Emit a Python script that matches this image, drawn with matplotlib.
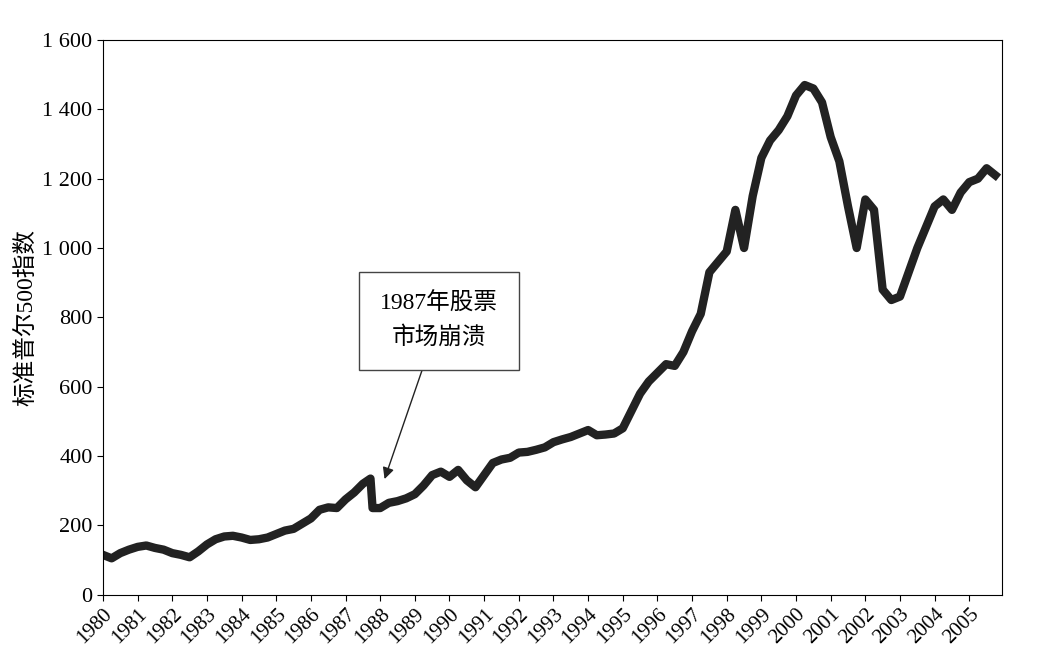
import matplotlib
matplotlib.use("Agg")
import matplotlib.pyplot as plt
import numpy as np

years = np.arange(1980, 2006, 0.25)
values = [115,105,120,130, 138,142,135,130, 120,115,108,125, 145,160,168,170,
          165,158,160,165, 175,185,190,205, 220,245,252,250, 275,295,320,330,
          250,265,270,278, 290,315,345,355, 340,360,330,310, 345,380,390,395,
          410,412,418,425, 440,448,455,465, 475,460,462,465, 480,530,580,615,
          640,665,660,700, 760,810,930,960, 990,1110,1000,1150, 1260,1310,1340,1380,
          1440,1470,1460,1420, 1320,1250,1120,1000, 1140,1110,880,850, 860,930,1000,1060,
          1120,1140,1110,1160, 1190,1200,1230,1210]
x = list(years[:32]) + [1987.78] + list(years[32:])
y = values[:32] + [250] + values[32:]
x[31] = 1987.72; y[31] = 335

fam = ['Liberation Serif', 'Noto Sans CJK SC']
plt.rcParams['font.family'] = fam

fig = plt.figure(figsize=(10.4, 6.66), dpi=100)
ax = fig.add_axes([0.099, 0.107, 0.864, 0.833])
ax.plot(x, y, color='#222222', lw=6, solid_joinstyle='round')
ax.set_xlim(1980, 2005.93)
ax.set_ylim(0, 1600)
ax.set_xticks(range(1980, 2006))
ax.set_xticklabels([str(v) for v in range(1980, 2006)], rotation=45, ha='right',
                   rotation_mode='anchor', fontsize=15)
yt = list(range(0, 1601, 200))
ax.set_yticks(yt)
ax.set_yticklabels([f"{v:,}".replace(",", " ") for v in yt], fontsize=16)
ax.set_ylabel('标准普尔500指数', fontsize=17)
ax.tick_params(direction='out', length=4)
ax.annotate('1987年股票\n市场崩溃', xy=(1988.1, 326), xytext=(1989.7, 790),
            ha='center', va='center', fontsize=17, linespacing=1.6,
            bbox=dict(boxstyle='square,pad=0.9', fc='white', ec='#444444'),
            arrowprops=dict(arrowstyle='-|>', color='#222222', lw=1, shrinkA=0))
fig.savefig('out.png', dpi=100)
